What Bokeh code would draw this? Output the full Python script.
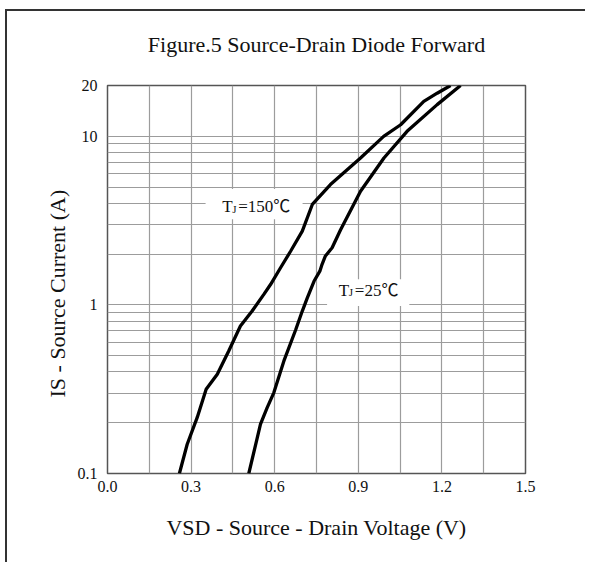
from bokeh.plotting import figure
from bokeh.models import (FixedTicker, Label, BoxAnnotation, CustomJSTickFormatter, Range1d, Title)
from bokeh.embed import file_html
from bokeh.resources import INLINE

# ---- data ----
v_150 = [0.258, 0.286, 0.322, 0.354, 0.394, 0.435, 0.477, 0.519, 0.561, 0.585, 0.621, 0.657,
         0.699, 0.735, 0.800, 0.908, 0.991, 1.052, 1.135, 1.183, 1.231]
i_150 = [0.10, 0.149, 0.215, 0.316, 0.388, 0.533, 0.749, 0.919, 1.154, 1.32, 1.66, 2.08,
         2.74, 3.94, 5.17, 7.43, 9.98, 11.7, 16.1, 18.0, 20.0]

v_25 = [0.507, 0.549, 0.573, 0.597, 0.633, 0.675, 0.699, 0.717, 0.741, 0.762, 0.770,
        0.782, 0.806, 0.836, 0.908, 0.992, 1.075, 1.183, 1.267]
i_25 = [0.10, 0.196, 0.246, 0.302, 0.465, 0.71, 0.919, 1.10, 1.38, 1.585, 1.74,
        1.95, 2.18, 2.78, 4.72, 7.43, 10.7, 15.4, 20.0]

x_ticks = [0.0, 0.3, 0.6, 0.9, 1.2, 1.5]
x_minor = [0.15, 0.45, 0.75, 1.05, 1.35]
y_ticks = [0.1, 1, 10, 20]
y_minor = [0.2, 0.3, 0.4, 0.5, 0.6, 0.7, 0.8, 0.9, 2, 3, 4, 5, 6, 7, 8, 9]

title_text = "Figure.5 Source-Drain Diode Forward"
x_label = "VSD - Source - Drain Voltage (V)"
y_label = "IS - Source Current (A)"

SERIF = "Liberation Serif, 'Noto Sans CJK SC'"
TXT = "#111111"

p = figure(width=585, height=562, y_axis_type="log",
           x_range=Range1d(0, 1.5), y_range=Range1d(0.1, 20),
           output_backend="svg", toolbar_location=None,
           min_border_left=107, min_border_right=60,
           min_border_top=84, min_border_bottom=89)
# thin dark edge along the left and top of the picture (drawn behind a transparent border area)
p.styles = {"box-shadow": "inset 5px 9px 0 0 #ffffff, inset 7px 11px 0 0 #333333"}
p.background_fill_color = "white"
p.border_fill_color = "white"
p.border_fill_alpha = 0.0
p.outline_line_color = "#555555"
p.outline_line_width = 1.5

# title
p.title.text = title_text
p.title.align = "center"
p.title.text_font = "Liberation Serif"
p.title.text_font_size = "22px"
p.title.text_font_style = "normal"
p.title.text_color = TXT
p.title.standoff = 58

# axes
p.xaxis.ticker = FixedTicker(ticks=x_ticks, minor_ticks=x_minor)
p.yaxis.ticker = FixedTicker(ticks=y_ticks, minor_ticks=y_minor)
p.xaxis.formatter = CustomJSTickFormatter(code="return tick.toFixed(1)")
p.yaxis.formatter = CustomJSTickFormatter(code="return String(Number(tick.toPrecision(3)))")
for ax in (p.xaxis, p.yaxis):
    ax.axis_line_color = None
    ax.major_tick_line_color = None
    ax.minor_tick_line_color = None
    ax.major_tick_in = 0
    ax.major_tick_out = 0
    ax.minor_tick_in = 0
    ax.minor_tick_out = 0
    ax.major_label_text_font = "Liberation Serif"
    ax.major_label_text_font_size = "16px"
    ax.major_label_text_color = TXT
p.xaxis.major_label_standoff = 7
p.yaxis.major_label_standoff = 10

# axis titles
p.add_layout(Title(text=x_label, align="center", vertical_align="top", standoff=41,
                   text_font="Liberation Serif", text_font_size="22px",
                   text_font_style="normal", text_color=TXT), "below")
p.add_layout(Title(text=y_label, align="left", offset=76, standoff=10,
                   text_font="Liberation Serif", text_font_size="22px",
                   text_font_style="normal", text_color=TXT), "left")

# grids
for g in (p.xgrid, p.ygrid):
    g.grid_line_color = "#9c9c9c"
    g.grid_line_width = 1.2
    g.minor_grid_line_color = "#9c9c9c"
    g.minor_grid_line_width = 1.2
p.xgrid.ticker = p.xaxis.ticker
p.ygrid.ticker = p.yaxis.ticker

# white label backgrounds (above grid, below curves)
p.add_layout(BoxAnnotation(left=0.352, right=0.700, bottom=3.22, top=4.86,
                           fill_color="white", fill_alpha=1.0, line_color=None,
                           level="underlay"))
p.add_layout(BoxAnnotation(left=0.788, right=1.083, bottom=0.984, top=1.421,
                           fill_color="white", fill_alpha=1.0, line_color=None,
                           level="underlay"))

# curves
p.line(v_150, i_150, line_color="black", line_width=3.3)
p.line(v_25, i_25, line_color="black", line_width=3.3)

def add_tj(x, y, temp):
    p.add_layout(Label(x=x, y=y, y_offset=6, text="T", text_font=SERIF, text_font_size="17px",
                       text_color=TXT, text_baseline="alphabetic"))
    p.add_layout(Label(x=x, y=y, x_offset=10, y_offset=4, text="J", text_font=SERIF,
                       text_font_size="11px", text_color=TXT, text_baseline="alphabetic"))
    p.add_layout(Label(x=x, y=y, x_offset=16, y_offset=6, text="=" + temp + "\u2103",
                       text_font=SERIF, text_font_size="17px", text_color=TXT,
                       text_baseline="alphabetic"))

add_tj(0.4116, 3.51, "150")
add_tj(0.83, 1.127, "25")

with open("out.html", "w") as f:
    f.write(file_html(p, INLINE))
